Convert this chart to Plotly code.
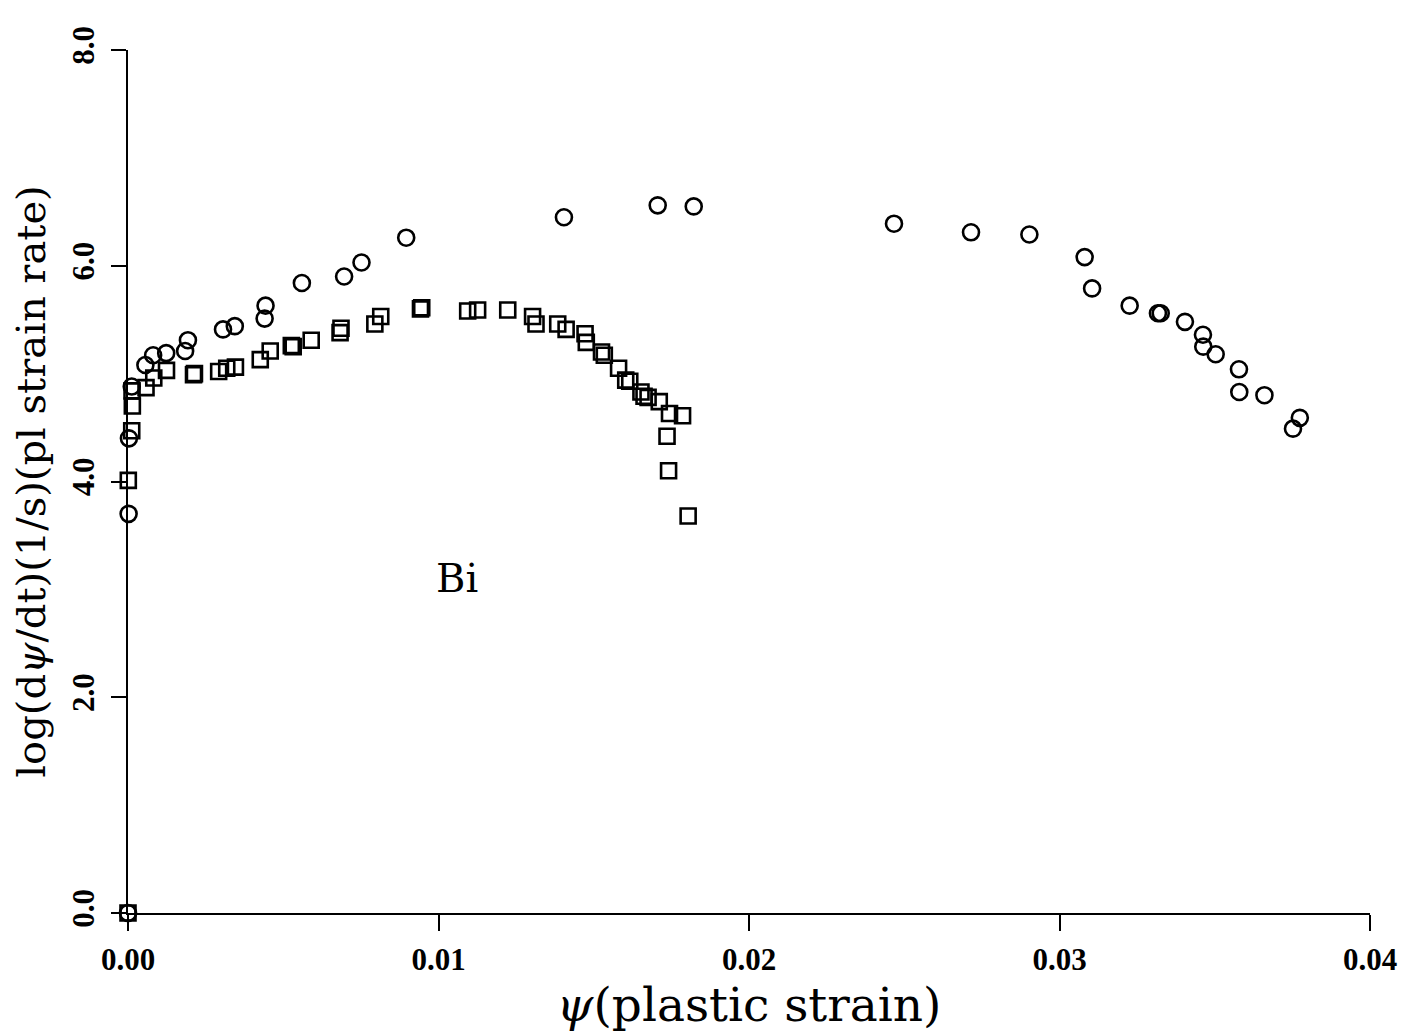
import plotly.graph_objects as go

# circles series (psi, log rate)
circ_x = [0.0, 0.00002, 0.00003, 0.00012, 0.00056, 0.00081, 0.00123, 0.00184, 0.00193,
          0.00306, 0.00344, 0.00440, 0.00443, 0.00560, 0.00696, 0.00752, 0.00896,
          0.01404, 0.01706, 0.01822, 0.02467, 0.02715, 0.02903, 0.03081, 0.03105,
          0.03226, 0.03317, 0.03326, 0.03404, 0.03462, 0.03463, 0.03503, 0.03578,
          0.03579, 0.03660, 0.03774, 0.03752]
circ_y = [0.0, 3.70, 4.40, 4.88, 5.08, 5.17, 5.19, 5.21, 5.31,
          5.41, 5.44, 5.51, 5.63, 5.84, 5.90, 6.03, 6.26,
          6.45, 6.56, 6.55, 6.39, 6.31, 6.29, 6.08, 5.79,
          5.63, 5.56, 5.56, 5.48, 5.36, 5.25, 5.18, 5.04,
          4.83, 4.80, 4.59, 4.49]

# squares series
sq_x = [0.0, 0.00001, 0.00012, 0.00014, 0.00013, 0.00058, 0.00083, 0.00124, 0.00211,
        0.00214, 0.00292, 0.00318, 0.00346, 0.00426, 0.00458, 0.00526, 0.00532,
        0.00590, 0.00683, 0.00686, 0.00795, 0.00814, 0.00942, 0.00946, 0.01094,
        0.01126, 0.01223, 0.01303, 0.01314, 0.01384, 0.01411, 0.01472, 0.01476,
        0.01525, 0.01534, 0.01580, 0.01603, 0.01616, 0.01652, 0.01662, 0.01675,
        0.01711, 0.01744, 0.01786, 0.01736, 0.01741, 0.01804]
sq_y = [0.0, 4.01, 4.47, 4.70, 4.84, 4.87, 4.96, 5.03, 4.99,
        5.00, 5.02, 5.05, 5.06, 5.13, 5.21, 5.26, 5.25,
        5.31, 5.38, 5.42, 5.46, 5.53, 5.60, 5.61, 5.58,
        5.59, 5.59, 5.53, 5.46, 5.46, 5.41, 5.37, 5.29,
        5.20, 5.17, 5.05, 4.94, 4.93, 4.83, 4.79, 4.78,
        4.74, 4.63, 4.61, 4.42, 4.10, 3.68]

x_ticks = [0.0, 0.01, 0.02, 0.03, 0.04]
x_tick_labels = ["0.00", "0.01", "0.02", "0.03", "0.04"]
y_ticks = [0.0, 2.0, 4.0, 6.0, 8.0]
y_tick_labels = ["0.0", "2.0", "4.0", "6.0", "8.0"]

label_text = "Bi"
label_x = 0.0106
label_y = 3.11

SERIF = "DejaVu Serif"
TICKFONT = "Liberation Serif"

fig = go.Figure()
fig.add_trace(go.Scatter(
    x=circ_x, y=circ_y, mode="markers",
    marker=dict(symbol="circle-open", size=16, color="black", line=dict(width=2.6, color="black")),
    cliponaxis=False, showlegend=False))
fig.add_trace(go.Scatter(
    x=sq_x, y=sq_y, mode="markers",
    marker=dict(symbol="square-open", size=15, color="black", line=dict(width=2.6, color="black")),
    cliponaxis=False, showlegend=False))

fig.add_annotation(x=label_x, y=label_y, text=label_text, showarrow=False,
                   font=dict(family=SERIF, size=40, color="black"))

fig.update_layout(
    width=1407, height=1035,
    margin=dict(l=120, r=45, t=42, b=130),
    paper_bgcolor="white", plot_bgcolor="white",
    font=dict(family=SERIF, color="black"),
)
fig.update_xaxes(
    range=[0, 0.04], tickvals=x_ticks, ticktext=x_tick_labels,
    showgrid=False, zeroline=False, showline=True, linecolor="black", linewidth=2,
    ticks="outside", ticklen=16, tickwidth=2, tickcolor="black",
    tickfont=dict(family=TICKFONT, size=31, color="black", weight="bold"),
    ticklabelstandoff=2,
    title=dict(text="<i>ψ</i>(plastic strain)", font=dict(family=SERIF, size=47, color="black"), standoff=2),
)
fig.update_yaxes(
    range=[0, 8], tickvals=y_ticks, ticktext=y_tick_labels, tickangle=-90,
    showgrid=False, zeroline=False, showline=True, linecolor="black", linewidth=2,
    ticks="outside", ticklen=15, tickwidth=2, tickcolor="black",
    tickfont=dict(family=TICKFONT, size=31, color="black", weight="bold"),
    ticklabelstandoff=5,
    title=dict(text="log(d<i>ψ</i>/dt)(1/s)(pl strain rate)", font=dict(family=SERIF, size=40, color="black"), standoff=10),
)

fig.write_html("out.html")
